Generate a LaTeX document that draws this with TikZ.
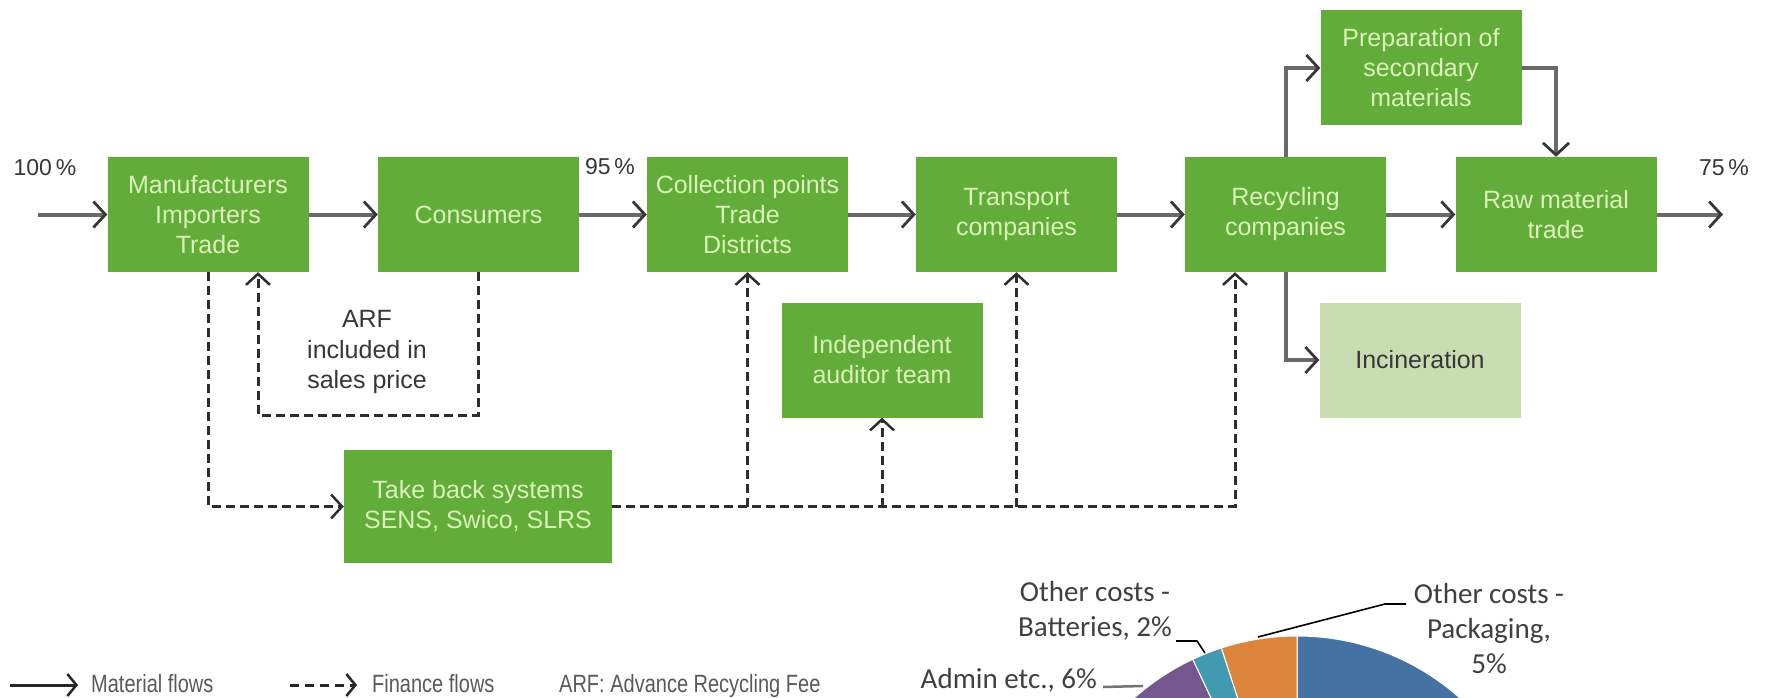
\documentclass[tikz,border=0pt]{standalone}
\usepackage{fontspec}
\setmainfont{Liberation Sans}
\newfontfamily\legendfont[FakeStretch=0.8]{Liberation Sans}
\newfontfamily\chartfont{Carlito}
\usetikzlibrary{arrows.meta}
\definecolor{boxgreen}{RGB}{98,172,58}
\definecolor{boxtext}{RGB}{218,242,184}
\definecolor{incgreen}{RGB}{200,221,178}
\definecolor{darktext}{RGB}{55,55,55}
\definecolor{linegray}{RGB}{105,105,105}
\definecolor{arrowdark}{RGB}{55,55,55}
\definecolor{dashdark}{RGB}{45,45,45}
\definecolor{legendgray}{RGB}{90,90,90}
\definecolor{charttext}{RGB}{64,64,64}
\definecolor{pieblue}{RGB}{68,114,163}
\definecolor{pieorange}{RGB}{220,132,60}
\definecolor{pieteal}{RGB}{66,154,178}
\definecolor{piepurple}{RGB}{116,87,143}
\begin{document}
\begin{tikzpicture}[x=1pt,y=-1pt,
  flowbox/.style={fill=boxgreen, text=boxtext, minimum width=201pt, minimum height=115pt,
    align=center, inner sep=0pt, font=\fontsize{25}{30}\selectfont},
  lightbox/.style={flowbox, fill=incgreen, text=darktext},
  pct/.style={text=darktext, font=\fontsize{23}{27}\selectfont, inner sep=0pt},
  arflabel/.style={text=darktext, align=center, font=\fontsize{25}{30.5}\selectfont, inner sep=0pt},
  mat/.style={draw=linegray, line width=4pt,
    -{Straight Barb[length=12pt,width=26pt,line width=2.8pt,color=arrowdark]}},
  fin/.style={draw=dashdark, line width=3pt, dash pattern=on 9pt off 5pt},
  finarrow/.style={fin, -{Straight Barb[length=11pt,width=24pt,line width=2.5pt,color=dashdark]}},
  legmat/.style={draw=black!85, line width=3pt,
    -{Straight Barb[length=9pt,width=22pt,line width=2.5pt]}},
  legfin/.style={draw=black!85, line width=3pt, dash pattern=on 9pt off 6pt,
    -{Straight Barb[length=9pt,width=22pt,line width=2.5pt]}},
  legtext/.style={text=legendgray, font=\legendfont\fontsize{25}{29}\selectfont, inner sep=0pt, anchor=base west},
  charttxt/.style={text=charttext, font=\chartfont\fontsize{29}{35}\selectfont, inner sep=0pt, align=center},
  slice/.style={draw=white, line width=1pt}
]
\useasboundingbox (0,0) rectangle (1767,698);
\fill[white] (0,0) rectangle (1767,698);

% ---------- pie chart (clipped at bottom) ----------
\begin{scope}
  \clip (0,0) rectangle (1767,698);
  \begin{scope}[shift={(1297,881)}]
    \fill[pieblue, slice] (0,0) -- (90:245pt) arc[start angle=90, end angle=-223.2, radius=245pt] -- cycle;
    \fill[pieorange, slice] (0,0) -- (90:245pt) arc[start angle=90, end angle=108, radius=245pt] -- cycle;
    \fill[pieteal, slice] (0,0) -- (108:245pt) arc[start angle=108, end angle=115.2, radius=245pt] -- cycle;
    \fill[piepurple, slice] (0,0) -- (115.2:245pt) arc[start angle=115.2, end angle=136.8, radius=245pt] -- cycle;
  \end{scope}
\end{scope}

% pie labels and leaders
\node[charttxt] (lbat) at (1095,611) {Other costs -\\Batteries, 2\%};
\node[charttxt] (lpkg) at (1489,629) {Other costs -\\Packaging,\\5\%};
\node[charttxt, anchor=east] (ladm) at (1097,680) {Admin etc., 6\%};
\coordinate (pk1) at (1258,637);
\coordinate (pk2) at (1385,604);
\coordinate (pk3) at (1406,604);
\draw[black, line width=1.6pt] (pk1) -- (pk2) -- (pk3);
\coordinate (bt1) at (1205,653);
\coordinate (bt2) at (1197,641);
\coordinate (bt3) at (1176,641);
\draw[black, line width=1.6pt] (bt1) -- (bt2) -- (bt3);
\coordinate (ad1) at (1103,687);
\coordinate (ad2) at (1143,686);
\draw[black!55, line width=2.5pt] (ad1) -- (ad2);

% ---------- boxes ----------
\node[flowbox] (man) at (208,214.5) {Manufacturers\\Importers\\Trade};
\node[flowbox] (con) at (478.5,214.5) {Consumers};
\node[flowbox] (col) at (747.5,214.5) {Collection points\\Trade\\Districts};
\node[flowbox] (tra) at (1016.5,214.5) {Transport\\companies};
\node[flowbox] (rec) at (1285.5,214.5) {Recycling\\companies};
\node[flowbox] (raw) at (1556,214.5) {Raw material\\trade};
\node[flowbox] (pre) at (1421,68) {Preparation of\\secondary\\materials};
\node[lightbox] (inc) at (1420,360) {Incineration};
\node[flowbox] (aud) at (882,360) {Independent\\auditor team};
\node[flowbox, minimum width=268pt, minimum height=113pt] (tbs) at (478,506.5) {Take back systems\\SENS, Swico, SLRS};
\node[arflabel] (arf) at (367,352) {ARF\\included in\\sales price};

% percentages
\node[pct] (p100) at (45,168) {100\,\%};
\node[pct] (p95) at (610,167) {95\,\%};
\node[pct] (p75) at (1724,168) {75\,\%};

% ---------- material flows ----------
\coordinate (in) at (38,214.5);
\coordinate (out) at (1723,214.5);
\draw[mat] (in) -- (man);
\draw[mat] (man) -- (con);
\draw[mat] (con) -- (col);
\draw[mat] (col) -- (tra);
\draw[mat] (tra) -- (rec);
\draw[mat] (rec) -- (raw);
\draw[mat] (raw) -- (out);
\draw[mat] (rec.north) |- (pre.west);
\draw[mat] (pre.east) -| (raw.north);
\draw[mat] (rec.south) |- (inc.west);

% ---------- finance flows ----------
\coordinate (arfc) at (258,415);
\coordinate (tbe) at (1235,506.5);
\draw[finarrow] (man.south) |- (tbs.west);
\draw[finarrow] (con.south) |- (arfc) -- (arfc |- man.south);
\draw[finarrow] (tbs.east) -- (tbe) -- (tbe |- rec.south);
\draw[finarrow] (col.south |- tbs.east) -- (col.south);
\draw[finarrow] (aud.south |- tbs.east) -- (aud.south);
\draw[finarrow] (tra.south |- tbs.east) -- (tra.south);

% ---------- legend ----------
\coordinate (lm1) at (10,685);
\coordinate (lm2) at (78,685);
\draw[legmat] (lm1) -- (lm2);
\node[legtext] (lmt) at (91,692) {Material flows};
\coordinate (lf1) at (290,685);
\coordinate (lf2) at (357,685);
\draw[legfin] (lf1) -- (lf2);
\node[legtext] (lft) at (372,692) {Finance flows};
\node[legtext] (larf) at (559,692) {ARF: Advance Recycling Fee};
\end{tikzpicture}
\end{document}
